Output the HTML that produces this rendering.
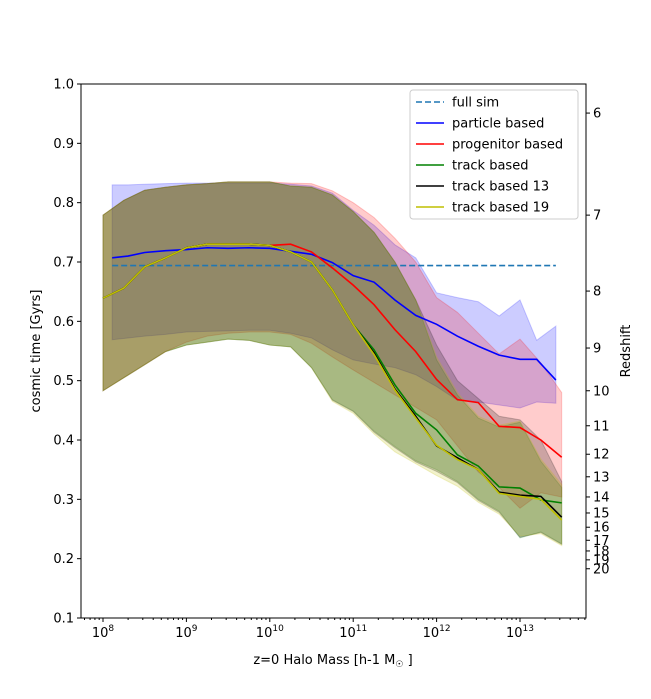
<!DOCTYPE html>
<html><head><meta charset="utf-8"><style>
body{margin:0;background:#fff;font-family:"Liberation Sans","DejaVu Sans",sans-serif}
svg text{font-family:"DejaVu Sans","Liberation Sans",sans-serif;font-size:13px;fill:#000}
</style></head><body>
<svg id="chart" width="651" height="694" xmlns="http://www.w3.org/2000/svg"></svg>
<script>
const massTrack=[8,8.25,8.5,8.75,9,9.25,9.5,9.75,10,10.25,10.5,10.75,11,11.25,11.5,11.75,12,12.25,12.5,12.75,13,13.25,13.5];
const massBlue=[8.11,8.3,8.5,8.75,9,9.25,9.5,9.75,10,10.25,10.5,10.75,11,11.25,11.5,11.75,12,12.25,12.5,12.75,13,13.2,13.43];
const fullSim=0.694;
const blueLine=[0.707,0.710,0.716,0.719,0.721,0.724,0.723,0.724,0.723,0.718,0.713,0.699,0.677,0.666,0.636,0.610,0.595,0.575,0.558,0.543,0.536,0.536,0.501];
const blueUp=[0.830,0.830,0.831,0.832,0.833,0.833,0.833,0.833,0.833,0.831,0.828,0.816,0.787,0.762,0.729,0.707,0.648,0.640,0.633,0.609,0.636,0.568,0.592];
const blueLo=[0.569,0.572,0.575,0.578,0.582,0.583,0.584,0.585,0.585,0.580,0.572,0.552,0.535,0.528,0.522,0.510,0.490,0.467,0.464,0.459,0.454,0.464,0.462];
const redLine=[0.639,0.656,0.692,0.707,0.724,0.730,0.730,0.730,0.728,0.730,0.717,0.690,0.661,0.628,0.586,0.549,0.502,0.468,0.463,0.423,0.421,0.400,0.371];
const redUp=[0.779,0.804,0.821,0.826,0.830,0.832,0.835,0.835,0.835,0.833,0.832,0.820,0.800,0.775,0.740,0.700,0.640,0.615,0.580,0.545,0.570,0.530,0.480];
const redLo=[0.483,0.505,0.527,0.549,0.565,0.575,0.580,0.582,0.582,0.578,0.563,0.540,0.518,0.497,0.476,0.455,0.434,0.390,0.346,0.320,0.285,0.311,0.304];
const greenLine=[0.639,0.656,0.692,0.707,0.724,0.730,0.730,0.730,0.728,0.717,0.700,0.653,0.594,0.552,0.493,0.445,0.417,0.375,0.356,0.321,0.319,0.299,0.294];
const greenUp=[0.779,0.804,0.821,0.826,0.830,0.832,0.835,0.835,0.835,0.828,0.826,0.813,0.785,0.750,0.700,0.636,0.535,0.476,0.437,0.422,0.430,0.364,0.320];
const greenLo=[0.483,0.505,0.527,0.549,0.560,0.565,0.570,0.568,0.560,0.557,0.522,0.468,0.449,0.415,0.389,0.365,0.350,0.330,0.300,0.280,0.235,0.245,0.225];
const blackLine=[0.639,0.656,0.692,0.707,0.724,0.730,0.730,0.730,0.728,0.717,0.700,0.653,0.594,0.547,0.486,0.440,0.390,0.370,0.350,0.312,0.307,0.305,0.270];
const blackUp=[0.779,0.804,0.821,0.826,0.830,0.832,0.835,0.835,0.835,0.828,0.826,0.813,0.785,0.750,0.700,0.636,0.560,0.500,0.470,0.440,0.434,0.400,0.330];
const blackLo=[0.483,0.505,0.527,0.549,0.560,0.565,0.570,0.568,0.560,0.557,0.522,0.467,0.448,0.413,0.387,0.363,0.347,0.328,0.298,0.278,0.236,0.244,0.224];
const yellowLine=[0.639,0.656,0.692,0.707,0.724,0.730,0.730,0.730,0.728,0.717,0.700,0.653,0.594,0.544,0.484,0.437,0.391,0.367,0.350,0.310,0.305,0.300,0.265];
const yellowUp=[0.779,0.804,0.821,0.826,0.830,0.832,0.835,0.835,0.835,0.828,0.826,0.813,0.785,0.750,0.700,0.636,0.540,0.480,0.440,0.425,0.432,0.368,0.325];
const yellowLo=[0.483,0.505,0.527,0.549,0.560,0.565,0.570,0.568,0.560,0.557,0.522,0.465,0.445,0.410,0.380,0.360,0.340,0.322,0.295,0.275,0.238,0.242,0.222];
const yTicks=[0.1,0.2,0.3,0.4,0.5,0.6,0.7,0.8,0.9,1.0];
const xTicks=[8,9,10,11,12,13];
const zLabels=[6,7,8,9,10,11,12,13,14,15,16,17,18,19,20];
const zTimes=[0.951,0.779,0.651,0.555,0.483,0.424,0.376,0.338,0.304,0.277,0.253,0.231,0.213,0.198,0.183];

const NS="http://www.w3.org/2000/svg";
const svg=document.getElementById('chart');
const L=81,R=586,T=84,B=618;
const xs=v=>103+(v-8)*83.4;
const ys=v=>T+(1.0-v)/0.9*(B-T);
function el(tag,attrs,parent){const e=document.createElementNS(NS,tag);for(const k in attrs)e.setAttribute(k,attrs[k]);(parent||svg).appendChild(e);return e;}

function band(m,up,lo,color,name){
  let d='M'+m.map((v,i)=>xs(v)+','+ys(up[i])).join('L');
  d+='L'+m.slice().reverse().map((v,i)=>xs(v)+','+ys(lo[lo.length-1-i])).join('L')+'Z';
  const p=el('path',{d:d,fill:color,'fill-opacity':0.2,stroke:color,'stroke-opacity':0.2});
  
  
}
function line(m,vals,color,name,dash){
  const p=el('polyline',{points:m.map((v,i)=>xs(v)+','+ys(vals[i])).join(' '),fill:'none',stroke:color,'stroke-width':1.6});
  if(dash)p.setAttribute('stroke-dasharray',dash);
  
  
}
band(massBlue,blueUp,blueLo,'#0000ff','particle-band');
band(massTrack,redUp,redLo,'#ff0000','progenitor-band');
band(massTrack,greenUp,greenLo,'#008000','track-band');
band(massTrack,blackUp,blackLo,'#000000','track13-band');
band(massTrack,yellowUp,yellowLo,'#bfbf00','track19-band');
const fs=el('line',{x1:xs(8.11),x2:xs(13.43),y1:ys(fullSim),y2:ys(fullSim),stroke:'#1f77b4','stroke-width':1.6,'stroke-dasharray':'6,3'});


line(massBlue,blueLine,'#0000ff','particle-line');
line(massTrack,redLine,'#ff0000','progenitor-line');
line(massTrack,greenLine,'#008000','track-line');
line(massTrack,blackLine,'#000000','track13-line');
line(massTrack,yellowLine,'#bfbf00','track19-line');

const frame=el('rect',{x:L,y:T,width:R-L,height:B-T,fill:'none',stroke:'#000','stroke-width':1});


yTicks.forEach(v=>{
  const y=ys(v);
  el('line',{x1:L-4,x2:L,y1:y,y2:y,stroke:'#000'});
  const t=el('text',{x:L-7,y:y+4.5,'text-anchor':'end'});t.textContent=v.toFixed(1);
  
  
});
for(let d=7;d<=13;d++){for(let k=2;k<=9;k++){const lv=d+Math.log10(k);const x=xs(lv);if(x>L&&x<R)el('line',{x1:x,x2:x,y1:B,y2:B+2,stroke:'#000'});}}
xTicks.forEach(v=>{
  const x=xs(v);
  el('line',{x1:x,x2:x,y1:B,y2:B+4,stroke:'#000'});
  const t=el('text',{x:x,y:B+19,'text-anchor':'middle'});
  t.innerHTML='10<tspan dy="-6" font-size="9">'+v+'</tspan>';
  
  
});
zLabels.forEach((z,i)=>{
  const y=ys(zTimes[i]);
  el('line',{x1:R,x2:R+4,y1:y,y2:y,stroke:'#000'});
  const t=el('text',{x:R+7,y:y+4.5});t.textContent=z;
  
  
});
let t=el('text',{x:333,y:664,'text-anchor':'middle'});t.innerHTML='z=0 Halo Mass [h-1 M<tspan font-size="9" dy="3">☉</tspan><tspan dy="-3"> ]</tspan>';


t=el('text',{x:0,y:0,'text-anchor':'middle',transform:'translate(40,351) rotate(-90)'});t.textContent='cosmic time [Gyrs]';


t=el('text',{x:0,y:0,'text-anchor':'middle',transform:'translate(630,351) rotate(-90)'});t.textContent='Redshift';



const lg=el('g',{});


el('rect',{x:410,y:90,width:168,height:129,rx:3,fill:'#fff','fill-opacity':0.8,stroke:'#ccc'},lg);
const names=['full sim','particle based','progenitor based','track based','track based 13','track based 19'];
const cols=['#1f77b4','#0000ff','#ff0000','#008000','#000000','#bfbf00'];
names.forEach((n,i)=>{
  const y=102+i*21;
  const ln=el('line',{x1:416,x2:444,y1:y,y2:y,stroke:cols[i],'stroke-width':1.6},lg);
  if(i===0)ln.setAttribute('stroke-dasharray','6,3');
  const tx=el('text',{x:452,y:y+4.5},lg);tx.textContent=n;
  
  
});
</script>
</body></html>
